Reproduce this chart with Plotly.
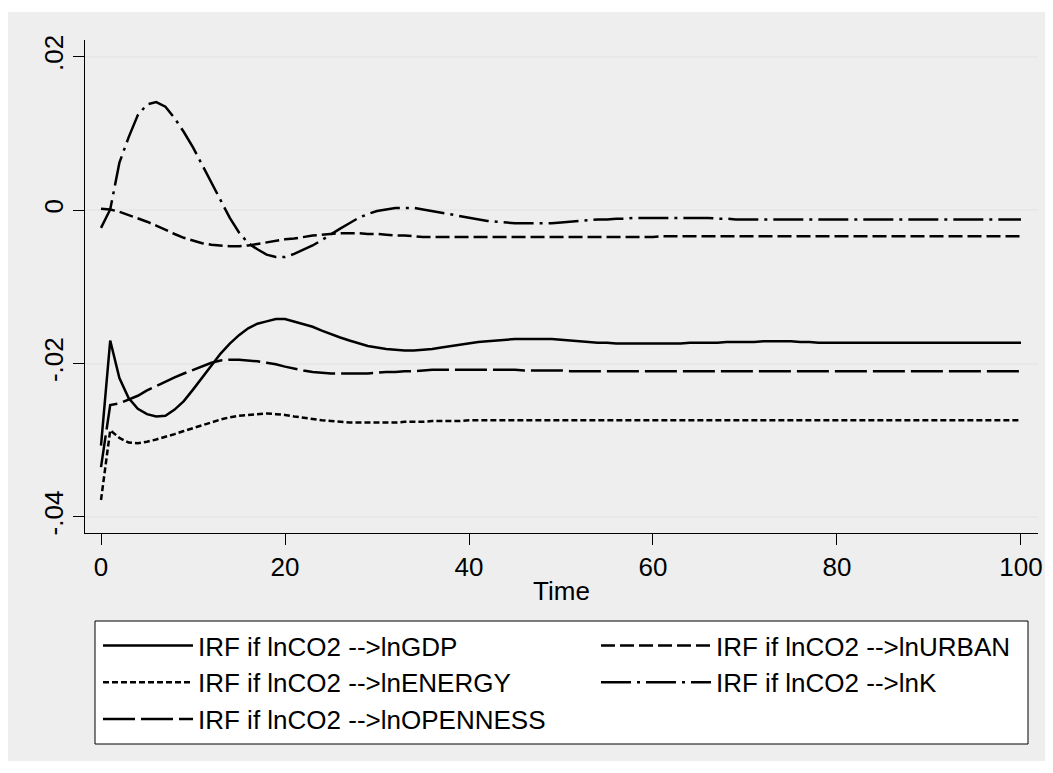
import plotly.graph_objects as go

time = list(range(0, 101))

irf_gdp = [
    -0.0307, -0.0170, -0.0219, -0.0245, -0.0259, -0.0266, -0.0269, -0.0268, -0.0260, -0.0249,
    -0.0234, -0.0218, -0.0202, -0.0187, -0.0174, -0.0163, -0.0154, -0.0148, -0.0145, -0.0142,
    -0.0142, -0.0145, -0.0148, -0.0152, -0.0157, -0.0162, -0.0166, -0.0170, -0.0174, -0.0177,
    -0.0179, -0.0181, -0.0182, -0.0183, -0.0183, -0.0182, -0.0181, -0.0179, -0.0177, -0.0175,
    -0.0174, -0.0172, -0.0171, -0.0170, -0.0169, -0.0168, -0.0168, -0.0168, -0.0168, -0.0168,
    -0.0169, -0.0170, -0.0171, -0.0172, -0.0173, -0.0173, -0.0174, -0.0174, -0.0174, -0.0174,
    -0.0174, -0.0174, -0.0174, -0.0174, -0.0173, -0.0173, -0.0173, -0.0173, -0.0172, -0.0172,
    -0.0172, -0.0172, -0.0171, -0.0171, -0.0171, -0.0171, -0.0172, -0.0172, -0.0173, -0.0173,
    -0.0173, -0.0173, -0.0173, -0.0173, -0.0173, -0.0173, -0.0173, -0.0173, -0.0173, -0.0173,
    -0.0173, -0.0173, -0.0173, -0.0173, -0.0173, -0.0173, -0.0173, -0.0173, -0.0173, -0.0173,
    -0.0173,
]

irf_urban = [
    0.0002, 0.0001, -0.0002, -0.0006, -0.0010, -0.0015, -0.0020, -0.0026, -0.0031, -0.0036,
    -0.0040, -0.0043, -0.0045, -0.0046, -0.0047, -0.0047, -0.0046, -0.0044, -0.0042, -0.0040,
    -0.0038, -0.0037, -0.0035, -0.0033, -0.0032, -0.0031, -0.0030, -0.0030, -0.0030, -0.0031,
    -0.0031, -0.0032, -0.0033, -0.0033, -0.0034, -0.0035, -0.0035, -0.0035, -0.0035, -0.0035,
    -0.0035, -0.0035, -0.0035, -0.0035, -0.0035, -0.0035, -0.0035, -0.0035, -0.0035, -0.0035,
    -0.0035, -0.0035, -0.0035, -0.0035, -0.0035, -0.0035, -0.0035, -0.0035, -0.0035, -0.0035,
    -0.0035, -0.0034, -0.0034, -0.0034, -0.0034, -0.0034, -0.0034, -0.0034, -0.0034, -0.0034,
    -0.0034, -0.0034, -0.0034, -0.0034, -0.0034, -0.0034, -0.0034, -0.0034, -0.0034, -0.0034,
    -0.0034, -0.0034, -0.0034, -0.0034, -0.0034, -0.0034, -0.0034, -0.0034, -0.0034, -0.0034,
    -0.0034, -0.0034, -0.0034, -0.0034, -0.0034, -0.0034, -0.0034, -0.0034, -0.0034, -0.0034,
    -0.0034,
]

irf_energy = [
    -0.0378, -0.0287, -0.0297, -0.0303, -0.0304, -0.0302, -0.0299, -0.0296, -0.0292, -0.0288,
    -0.0284, -0.0280, -0.0276, -0.0273, -0.0270, -0.0268, -0.0267, -0.0266, -0.0265, -0.0266,
    -0.0267, -0.0269, -0.0271, -0.0272, -0.0274, -0.0275, -0.0276, -0.0277, -0.0277, -0.0277,
    -0.0277, -0.0277, -0.0277, -0.0276, -0.0276, -0.0276, -0.0275, -0.0275, -0.0275, -0.0275,
    -0.0274, -0.0274, -0.0274, -0.0274, -0.0274, -0.0274, -0.0274, -0.0274, -0.0274, -0.0274,
    -0.0274, -0.0274, -0.0274, -0.0274, -0.0274, -0.0274, -0.0274, -0.0274, -0.0274, -0.0274,
    -0.0274, -0.0274, -0.0274, -0.0274, -0.0274, -0.0274, -0.0274, -0.0274, -0.0274, -0.0274,
    -0.0274, -0.0274, -0.0274, -0.0274, -0.0274, -0.0274, -0.0274, -0.0274, -0.0274, -0.0274,
    -0.0274, -0.0274, -0.0274, -0.0274, -0.0274, -0.0274, -0.0274, -0.0274, -0.0274, -0.0274,
    -0.0274, -0.0274, -0.0274, -0.0274, -0.0274, -0.0274, -0.0274, -0.0274, -0.0274, -0.0274,
    -0.0274,
]

irf_k = [
    -0.0023, 0.0001, 0.0062, 0.0095, 0.0124, 0.0138, 0.0141, 0.0135, 0.0120, 0.0102,
    0.0082, 0.0059, 0.0035, 0.0011, -0.0010, -0.0029, -0.0043, -0.0051, -0.0058, -0.0061,
    -0.0061, -0.0057, -0.0052, -0.0046, -0.0039, -0.0031, -0.0024, -0.0017, -0.0010, -0.0005,
    -0.0001, 0.0001, 0.0003, 0.0003, 0.0003, 0.0001, -0.0001, -0.0004, -0.0006, -0.0008,
    -0.0010, -0.0012, -0.0014, -0.0015, -0.0016, -0.0017, -0.0017, -0.0017, -0.0017, -0.0017,
    -0.0016, -0.0015, -0.0014, -0.0013, -0.0012, -0.0012, -0.0011, -0.0011, -0.0010, -0.0010,
    -0.0010, -0.0010, -0.0010, -0.0010, -0.0010, -0.0010, -0.0010, -0.0011, -0.0011, -0.0012,
    -0.0012, -0.0012, -0.0012, -0.0012, -0.0012, -0.0012, -0.0012, -0.0012, -0.0012, -0.0012,
    -0.0012, -0.0012, -0.0012, -0.0012, -0.0012, -0.0012, -0.0012, -0.0012, -0.0012, -0.0012,
    -0.0012, -0.0012, -0.0012, -0.0012, -0.0012, -0.0012, -0.0012, -0.0012, -0.0012, -0.0012,
    -0.0012,
]

irf_openness = [
    -0.0335, -0.0254, -0.0252, -0.0247, -0.0242, -0.0235, -0.0229, -0.0223, -0.0218, -0.0213,
    -0.0208, -0.0203, -0.0199, -0.0196, -0.0195, -0.0195, -0.0196, -0.0197, -0.0199, -0.0201,
    -0.0204, -0.0207, -0.0209, -0.0211, -0.0212, -0.0213, -0.0213, -0.0213, -0.0213, -0.0213,
    -0.0212, -0.0211, -0.0211, -0.0210, -0.0210, -0.0209, -0.0208, -0.0208, -0.0208, -0.0208,
    -0.0208, -0.0208, -0.0208, -0.0208, -0.0208, -0.0208, -0.0209, -0.0209, -0.0209, -0.0209,
    -0.0209, -0.0210, -0.0210, -0.0210, -0.0210, -0.0210, -0.0210, -0.0210, -0.0210, -0.0210,
    -0.0210, -0.0210, -0.0210, -0.0210, -0.0210, -0.0210, -0.0210, -0.0210, -0.0210, -0.0210,
    -0.0210, -0.0210, -0.0210, -0.0210, -0.0210, -0.0210, -0.0210, -0.0210, -0.0210, -0.0210,
    -0.0210, -0.0210, -0.0210, -0.0210, -0.0210, -0.0210, -0.0210, -0.0210, -0.0210, -0.0210,
    -0.0210, -0.0210, -0.0210, -0.0210, -0.0210, -0.0210, -0.0210, -0.0210, -0.0210, -0.0210,
    -0.0210,
]

series_names = [
    "IRF if lnCO2 -->lnGDP",
    "IRF if lnCO2 -->lnURBAN",
    "IRF if lnCO2 -->lnENERGY",
    "IRF if lnCO2 -->lnK",
    "IRF if lnCO2 -->lnOPENNESS",
]
series_values = [irf_gdp, irf_urban, irf_energy, irf_k, irf_openness]
series_dash = ["solid", "14px,5px", "6px,3px", "30px,6px,3px,6px", "32px,6px"]
series_legend = ["legend", "legend2", "legend", "legend2", "legend"]

y_tickvals = [-0.04, -0.02, 0, 0.02]
y_ticktext = ["-.04", "-.02", "0", ".02"]
x_tickvals = [0, 20, 40, 60, 80, 100]

FONT = "Liberation Sans, Arial, sans-serif"
FS = 26

# figure geometry (page is offset by the 8px body margin)
W, H = 1045, 765
L, R, T, B = 77, 15, 32, 240
PW, PH = W - L - R, H - T - B


def px(xf):
    return (xf - L) / PW


def py(yf):
    return (H - B - yf) / PH


fig = go.Figure()
for name, vals, dash, leg in zip(series_names, series_values, series_dash, series_legend):
    fig.add_trace(go.Scatter(
        x=time, y=vals, name=name, mode="lines", legend=leg,
        line=dict(color="black", width=2.5, dash=dash),
    ))

legend_common = dict(
    orientation="v",
    yanchor="top", xanchor="left",
    bgcolor="rgba(0,0,0,0)", borderwidth=0,
    font=dict(family=FONT, size=FS, color="black"),
    traceorder="normal",
)

fig.update_layout(
    width=W, height=H,
    paper_bgcolor="white",
    plot_bgcolor="white",
    margin=dict(l=L, r=R, t=T, b=B, autoexpand=False),
    font=dict(family=FONT, size=FS, color="black"),
    showlegend=True,
    legend=dict(x=px(90), y=py(614), itemwidth=90, **legend_common),
    legend2=dict(x=px(588), y=py(614), itemwidth=110, **legend_common),
    shapes=[
        dict(type="rect", xref="paper", yref="paper", layer="below",
             x0=px(0), x1=px(W), y0=py(753), y1=py(4),
             fillcolor="#eeeeee", line=dict(width=0)),
        dict(type="rect", xref="paper", yref="paper", layer="below",
             x0=px(87), x1=px(1020), y0=py(736), y1=py(613),
             fillcolor="white", line=dict(color="black", width=1)),
    ],
)

fig.update_xaxes(
    range=[-1.74, 101.85],
    tickvals=x_tickvals,
    ticks="outside", ticklen=11, tickwidth=1, tickcolor="black",
    showline=True, linecolor="black", linewidth=1,
    showgrid=False, zeroline=False,
    tickfont=dict(family=FONT, size=FS, color="black"),
    title=dict(text="Time", font=dict(family=FONT, size=FS, color="black"), standoff=0),
)
fig.update_yaxes(
    range=[-0.0421, 0.0222],
    tickvals=y_tickvals, ticktext=y_ticktext,
    tickangle=-90,
    ticks="outside", ticklen=11, tickwidth=1, tickcolor="black",
    showline=True, linecolor="black", linewidth=1,
    showgrid=True, gridcolor="#e8e8e8", gridwidth=2,
    zeroline=False,
    tickfont=dict(family=FONT, size=FS, color="black"),
)

fig.write_html("out.html")
